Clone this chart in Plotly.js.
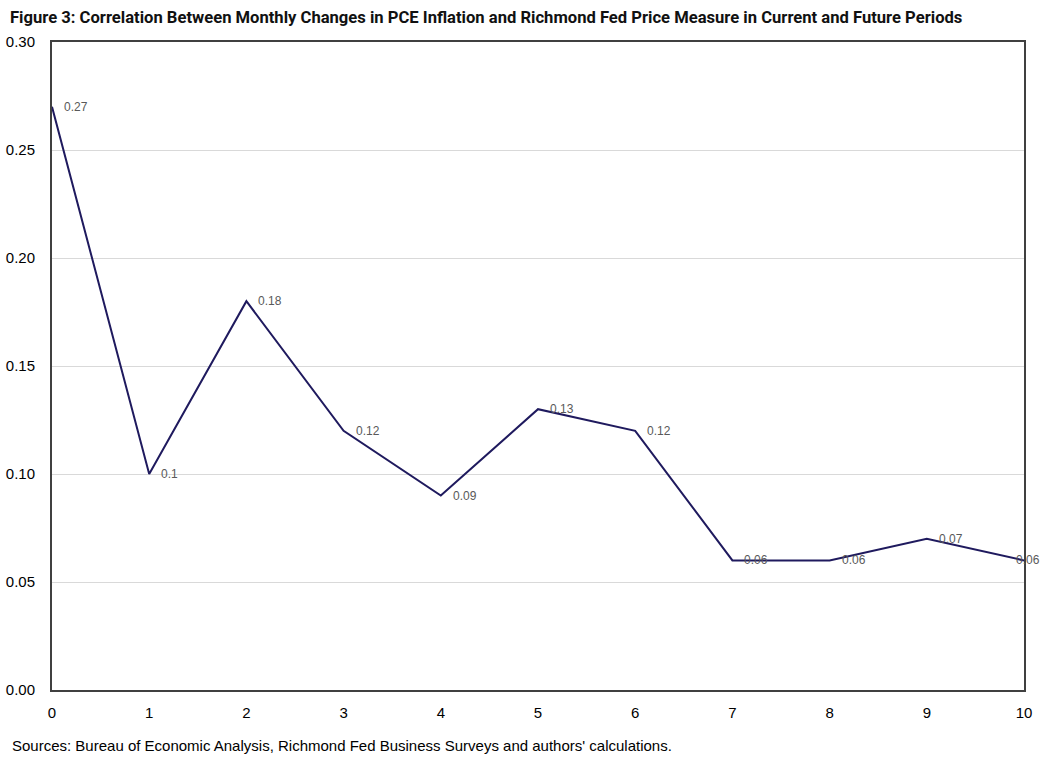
<!DOCTYPE html>
<html>
<head>
<meta charset="utf-8">
<script src="https://cdn.plot.ly/plotly-3.0.1.min.js"></script>
<style>html,body{margin:0;padding:0;background:#fff;}#chart{width:1044px;height:758px;}</style>
</head>
<body>
<div id="chart"></div>
<script>
const periods = [0, 1, 2, 3, 4, 5, 6, 7, 8, 9, 10];
const correlations = [0.27, 0.10, 0.18, 0.12, 0.09, 0.13, 0.12, 0.06, 0.06, 0.07, 0.06];
const pointLabels = ["0.27", "0.1", "0.18", "0.12", "0.09", "0.13", "0.12", "0.06", "0.06", "0.07", "0.06"];
const yTickVals = [0, 0.05, 0.10, 0.15, 0.20, 0.25, 0.30];
const yTickText = ["0.00", "0.05", "0.10", "0.15", "0.20", "0.25", "0.30"];
const titleText = "Figure 3: Correlation Between Monthly Changes in PCE Inflation and Richmond Fed Price Measure in Current and Future Periods";
const sourceText = "Sources: Bureau of Economic Analysis, Richmond Fed Business Surveys and authors' calculations.";

const trace = {
  x: periods,
  y: correlations,
  type: 'scatter',
  mode: 'lines',
  line: {color: '#1f1a5e', width: 2},
  hoverinfo: 'none'
};

const lastIndex = periods.length - 1;
const labelAnnotations = periods.map((p, i) => ({
  x: p, y: correlations[i], xref: 'x', yref: 'y',
  text: pointLabels[i],
  showarrow: false,
  xanchor: 'left', yanchor: 'middle',
  xshift: i === lastIndex ? -10 : 10, yshift: 0,
  font: {family: 'Liberation Sans, Arial, sans-serif', size: 12, color: '#595959'}
}));

const layout = {
  width: 1044,
  height: 758,
  margin: {l: 52, r: 20, t: 42, b: 68},
  paper_bgcolor: '#ffffff',
  plot_bgcolor: '#ffffff',
  showlegend: false,
  title: {
    text: '<b>' + titleText + '</b>',
    x: 10 / 1044, xanchor: 'left', xref: 'container',
    y: 1 - 17 / 758, yanchor: 'middle', yref: 'container',
    font: {family: 'Roboto, "Liberation Sans", sans-serif', size: 16.6, color: '#111111'}
  },
  xaxis: {
    range: [0, 10],
    tickvals: periods,
    ticktext: periods.map(String),
    showgrid: false,
    zeroline: false,
    showline: true,
    linecolor: '#404040',
    linewidth: 2,
    mirror: true,
    ticks: '',
    ticklabelstandoff: 8,
    tickfont: {family: 'Liberation Sans, Arial, sans-serif', size: 15, color: '#000000'},
    fixedrange: true
  },
  yaxis: {
    range: [0, 0.30],
    tickvals: yTickVals,
    ticktext: yTickText,
    showgrid: true,
    gridcolor: '#d9d9d9',
    gridwidth: 1,
    zeroline: false,
    showline: true,
    linecolor: '#404040',
    linewidth: 2,
    mirror: true,
    ticks: '',
    ticklabelstandoff: 12,
    tickfont: {family: 'Liberation Sans, Arial, sans-serif', size: 15, color: '#000000'},
    fixedrange: true
  },
  annotations: labelAnnotations.concat([{
    text: sourceText,
    xref: 'paper', yref: 'paper',
    x: -42 / 972, y: -0.086,
    xanchor: 'left', yanchor: 'middle',
    showarrow: false,
    font: {family: 'Liberation Sans, Arial, sans-serif', size: 15, color: '#000000'}
  }])
};

Plotly.newPlot('chart', [trace], layout, {displayModeBar: false, staticPlot: true});
</script>
</body>
</html>
